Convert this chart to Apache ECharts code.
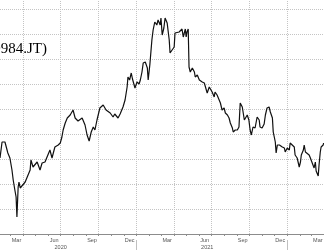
<!DOCTYPE html>
<html><head><meta charset="utf-8">
<script src="https://cdn.jsdelivr.net/npm/echarts@6/dist/echarts.min.js"></script>
<style>html,body{margin:0;padding:0;background:#fff}#c{width:324px;height:250px}</style>
</head><body><div id="c"></div>
<script>
const title = 'SoftBank Group (9984.JT)';
const dates = [
'2020-02-05','2020-02-10','2020-02-12','2020-02-17','2020-02-21','2020-02-24','2020-02-29','2020-03-05','2020-03-08','2020-03-12',
'2020-03-15','2020-03-17','2020-03-20','2020-03-22','2020-03-25','2020-03-29','2020-04-06','2020-04-10','2020-04-18','2020-04-20',
'2020-04-25','2020-05-05','2020-05-12','2020-05-17','2020-05-24','2020-05-29','2020-06-05','2020-06-10','2020-06-12','2020-06-17',
'2020-06-25','2020-06-30','2020-07-04','2020-07-07','2020-07-12','2020-07-17','2020-07-24','2020-07-31','2020-08-05','2020-08-12',
'2020-08-22','2020-08-29','2020-09-03','2020-09-08','2020-09-13','2020-09-18','2020-09-22','2020-09-27','2020-10-04','2020-10-12',
'2020-10-19','2020-10-29','2020-11-02','2020-11-05','2020-11-09','2020-11-17','2020-11-22','2020-11-29','2020-12-04','2020-12-09',
'2020-12-11','2020-12-15','2020-12-19','2020-12-22','2020-12-26','2020-12-28','2021-01-02','2021-01-07','2021-01-10','2021-01-14',
'2021-01-17','2021-01-22','2021-01-27','2021-01-29','2021-02-02','2021-02-07','2021-02-10','2021-02-14','2021-02-19','2021-02-22',
'2021-02-27','2021-03-01','2021-03-04','2021-03-08','2021-03-11','2021-03-16','2021-03-21','2021-03-23','2021-03-26','2021-04-02',
'2021-04-04','2021-04-14','2021-04-21','2021-04-24','2021-04-29','2021-05-01','2021-05-03','2021-05-06','2021-05-08','2021-05-11',
'2021-05-16','2021-05-21','2021-05-23','2021-05-28','2021-06-02','2021-06-09','2021-06-14','2021-06-16','2021-06-21','2021-06-26',
'2021-06-28','2021-07-03','2021-07-08','2021-07-10','2021-07-15','2021-07-20','2021-07-23','2021-07-27','2021-08-01','2021-08-04',
'2021-08-09','2021-08-13','2021-08-16','2021-08-21','2021-08-23','2021-08-28','2021-09-02','2021-09-06','2021-09-09','2021-09-14',
'2021-09-19','2021-09-23','2021-09-26','2021-09-30','2021-10-03','2021-10-06','2021-10-10','2021-10-15','2021-10-20','2021-10-25',
'2021-10-27','2021-11-01','2021-11-06','2021-11-09','2021-11-13','2021-11-18','2021-11-21','2021-11-26','2021-11-28','2021-12-03',
'2021-12-05','2021-12-08','2021-12-13','2021-12-15','2021-12-20','2021-12-25','2021-12-27','2022-01-01','2022-01-06','2022-01-08',
'2022-01-13','2022-01-18','2022-01-20','2022-01-25','2022-01-30','2022-02-02','2022-02-04','2022-02-09','2022-02-11','2022-02-14',
'2022-02-18','2022-02-23','2022-02-26','2022-03-02','2022-03-07','2022-03-10','2022-03-12','2022-03-17','2022-03-19','2022-03-22',
'2022-03-24','2022-03-29','2022-03-30'
];
const prices = [
5040,5680,5760,5680,5760,5240,5040,4560,4160,3760,
3480,2680,3880,4080,3840,3760,4080,4240,4560,4960,
4680,4880,4560,4840,4880,5080,5360,5040,4960,5480,
5560,5640,5880,6160,6440,6640,6760,6960,6640,6520,
6640,6360,5960,5720,6080,6280,6160,6560,7040,7160,
6960,6840,6760,6680,6800,6640,6800,7080,7360,7880,
8280,8160,8440,8200,7960,7840,8080,8000,8160,8480,
8840,8880,8640,8160,8760,9760,10160,10480,10360,10560,
10360,10640,9960,10240,10640,10440,9760,9240,9160,9480,
10040,10080,10200,9880,10200,9880,10080,10200,8680,8480,
8640,8480,8280,8360,8160,8080,8040,7960,7640,7880,
7840,7680,7480,7680,7560,7360,7240,6960,7040,6840,
6760,6640,6440,6240,6080,6160,6160,6280,7240,7080,
6560,6480,6760,6560,6160,5960,6280,6240,6680,6560,
6280,6240,6400,6760,7040,7080,6880,6640,6080,5680,
5240,5560,5560,5640,5480,5440,5280,5440,5360,5640,
5560,5480,5160,5040,4680,4880,5160,5360,5560,5280,
5240,5160,5040,4960,4640,4880,4520,4320,4760,5280,
5480,5560,5640
];
const monthTicks = ['2020-03-01','2020-04-01','2020-05-01','2020-06-01','2020-07-01','2020-08-01','2020-09-01','2020-10-01','2020-11-01','2020-12-01',
'2021-01-01','2021-02-01','2021-03-01','2021-04-01','2021-05-01','2021-06-01','2021-07-01','2021-08-01','2021-09-01','2021-10-01','2021-11-01','2021-12-01',
'2022-01-01','2022-02-01','2022-03-01'];
const monthLabelDates = ['2020-03-16','2020-06-15','2020-09-15','2020-12-15','2021-03-16','2021-06-15','2021-09-15','2021-12-15','2022-03-16'];
const monthNames = ['Jan','Feb','Mar','Apr','May','Jun','Jul','Aug','Sep','Oct','Nov','Dec'];
const quarterLines = ['2020-04-01','2020-07-01','2020-10-01','2021-01-01','2021-04-01','2021-07-01','2021-10-01','2022-01-01'];
const yearBreaks = ['2021-01-01','2022-01-01'];
const yearLabelDates = ['2020-07-01','2021-06-21'];
const xMin = '2020-02-05', xMax = '2022-03-31';

function ts(s){ return Date.parse(s + 'T00:00:00Z'); }
function tsList(a){ return a.map(ts); }

const chart = echarts.init(document.getElementById('c'), null, {renderer:'canvas'});
chart.setOption({
  animation: false,
  grid: {left: 0, right: 0, top: 9, bottom: 16, containLabel: false, outerBoundsMode: 'none'},
  xAxis: [
    {type:'value', min:ts(xMin), max:ts(xMax), position:'bottom', scale:true, z:1,
     axisLine:{show:false, onZero:false}, axisLabel:{show:false},
     axisTick:{show:true, inside:true, length:240, customValues:tsList(quarterLines),
       lineStyle:{type:'dotted', color:'#c4c4c4', width:1}},
     splitLine:{show:false}},
    {type:'value', min:ts(xMin), max:ts(xMax), position:'bottom', scale:true, z:3,
     axisLine:{show:true, onZero:false, lineStyle:{color:'#8c8c8c', width:1}},
     axisTick:{show:true, customValues:tsList(monthTicks), length:2, lineStyle:{color:'#8c8c8c'}},
     axisLabel:{show:true, customValues:tsList(monthLabelDates), fontSize:5.5, color:'#555', margin:3, fontFamily:'Liberation Sans',
       formatter:function(v){return monthNames[new Date(v).getUTCMonth()];}},
     splitLine:{show:false}},
    {type:'value', min:ts(xMin), max:ts(xMax), position:'bottom', offset:6, scale:true,
     axisLine:{show:false, onZero:false},
     axisTick:{show:true, customValues:tsList(yearBreaks), length:10, lineStyle:{color:'#c0c0c0'}},
     axisLabel:{show:true, customValues:tsList(yearLabelDates), fontSize:5.5, color:'#555', margin:4, fontFamily:'Liberation Sans',
       formatter:function(v){return String(new Date(v).getUTCFullYear());}},
     splitLine:{show:false}}
  ],
  yAxis: {type:'value', min:2000, max:11000, interval:1000,
    axisLine:{show:false}, axisTick:{show:false}, axisLabel:{show:false},
    splitLine:{show:true, lineStyle:{type:'dotted', color:'#c4c4c4', width:1}}},
  graphic: [{type:'text', x:47, y:49, style:{text:title, align:'right', verticalAlign:'middle',
    font:'15px "Liberation Serif"', fill:'#000'}}],
  series: [{type:'line', xAxisIndex:0, yAxisIndex:0, showSymbol:false, symbol:'none', z:5,
    data: dates.map(function(d,i){return [ts(d), prices[i]];}),
    lineStyle:{color:'#111', width:1.2}}]
});
</script></body></html>
